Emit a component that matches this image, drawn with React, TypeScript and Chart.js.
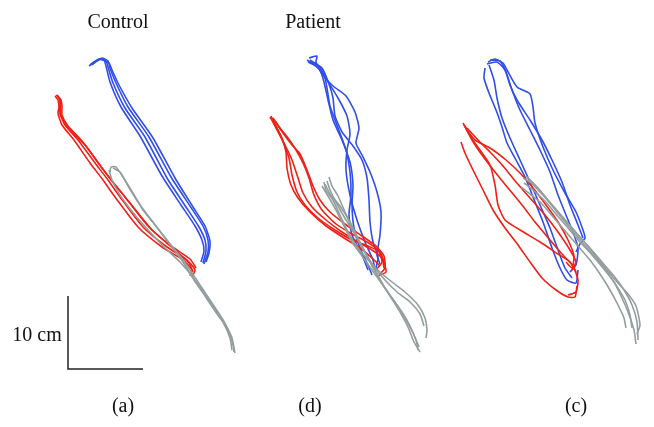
import React, { useEffect, useRef } from "react";
import { Chart, registerables } from "chart.js";

Chart.register(...registerables);

type P = [number, number];

// Panel (a) Control
const controlBlue: P[][] = [
  [[89, 66], [94, 62], [99, 59], [104, 60], [106, 66], [110, 82], [121, 107], [140, 136], [162, 176], [181, 205], [195, 226], [202, 240], [204, 251], [201, 262]],
  [[90, 65], [95, 62], [100, 59], [106, 61], [108, 67], [113, 83], [125, 108], [145, 137], [167, 178], [186, 207], [199, 227], [205, 240], [206, 251], [203, 263]],
  [[91, 64], [97, 61], [102, 58], [108, 61], [110, 68], [116, 83], [128, 107], [149, 137], [171, 177], [190, 206], [203, 226], [208, 240], [208, 252], [204, 264]],
  [[92, 65], [98, 60], [103, 60], [109, 63], [112, 70], [119, 85], [132, 108], [153, 138], [175, 178], [193, 207], [205, 226], [210, 241], [209, 253], [206, 262]],
];
const controlRed: P[][] = [
  [[56, 95], [59, 98], [60, 104], [58, 113], [62, 125], [74, 140], [90, 163], [103, 180], [115, 197], [138, 227], [162, 247], [183, 260], [192, 270], [190, 276]],
  [[57, 95], [60, 99], [61, 104], [60, 113], [65, 125], [78, 140], [95, 163], [108, 180], [120, 197], [143, 227], [167, 247], [187, 260], [195, 270], [192, 277]],
  [[58, 97], [61, 100], [62, 106], [62, 115], [68, 126], [82, 141], [99, 164], [112, 181], [125, 197], [148, 226], [171, 246], [190, 259], [196, 268]],
  [[55, 96], [58, 100], [59, 106], [61, 116], [70, 130], [86, 146], [102, 168], [116, 186], [130, 203], [152, 230], [175, 250], [189, 263], [193, 272]],
];
const controlGray: P[][] = [
  [[110, 172], [111, 167], [116, 167], [123, 177], [133, 193], [143, 210], [155, 225], [167, 240], [180, 256], [190, 270], [200, 285], [210, 300], [220, 315], [227, 327], [232, 338], [235, 353]],
  [[109, 170], [112, 180], [120, 195], [135, 215], [150, 232], [165, 248], [180, 262], [195, 280], [207, 298], [218, 313], [228, 330], [233, 345], [234, 352]],
  [[113, 168], [120, 172], [128, 186], [140, 205], [153, 222], [168, 242], [183, 262], [194, 280], [205, 296], [215, 311], [224, 324], [230, 338], [232, 350]],
];

// Panel (d) Patient
const patientBlue: P[][] = [
  [[307, 60], [313, 64], [320, 70], [324, 82], [328, 100], [333, 120], [342, 140], [350, 162], [353, 185], [352, 205], [354, 228], [360, 248], [368, 265], [372, 275]],
  [[309, 58], [317, 56], [316, 62], [322, 74], [333, 86], [346, 96], [355, 112], [359, 128], [356, 143], [362, 155], [370, 172], [377, 192], [381, 212], [380, 235], [377, 255], [380, 264]],
  [[311, 62], [319, 66], [327, 80], [338, 98], [347, 116], [350, 134], [347, 150], [346, 170], [350, 195], [357, 220], [365, 242], [373, 260], [375, 270]],
  [[310, 60], [322, 68], [329, 84], [333, 98], [335, 116], [342, 132], [353, 146], [362, 160], [367, 178], [369, 200], [370, 222], [373, 242], [378, 257], [376, 268]],
  [[308, 62], [316, 66], [324, 75], [327, 88], [330, 106], [338, 128], [346, 150], [350, 172], [351, 195], [349, 215], [352, 235], [362, 255], [368, 270]],
];
const patientRed: P[][] = [
  [[271, 116], [274, 122], [278, 130], [283, 142], [289, 158], [292, 175], [297, 192], [305, 205], [318, 218], [335, 230], [352, 240], [368, 246], [380, 252], [384, 262], [386, 272], [378, 276]],
  [[273, 118], [280, 128], [288, 138], [296, 150], [303, 163], [309, 178], [314, 195], [322, 210], [336, 224], [352, 234], [367, 242], [378, 250], [382, 262], [376, 270]],
  [[272, 120], [278, 132], [285, 145], [292, 160], [298, 178], [303, 193], [312, 207], [326, 220], [342, 232], [358, 242], [372, 250], [382, 258], [384, 268]],
  [[275, 121], [283, 133], [292, 145], [300, 154], [307, 170], [313, 186], [320, 200], [330, 212], [345, 224], [362, 236], [376, 246], [384, 256], [385, 268], [380, 274]],
  [[270, 117], [276, 127], [282, 138], [286, 152], [287, 168], [291, 185], [298, 198], [310, 212], [326, 226], [344, 238], [360, 248], [372, 258], [380, 266]],
];
const patientGray: P[][] = [
  [[324, 182], [326, 190], [333, 200], [340, 215], [348, 232], [358, 248], [370, 262], [380, 272], [392, 282], [405, 292], [418, 305], [425, 318], [427, 330], [426, 338]],
  [[329, 177], [332, 186], [338, 196], [345, 212], [352, 228], [360, 244], [368, 258], [376, 272], [385, 288], [395, 302], [405, 318], [413, 333], [419, 347]],
  [[322, 186], [328, 196], [336, 210], [344, 226], [352, 242], [362, 256], [372, 270], [382, 284], [392, 298], [402, 312], [410, 326], [416, 340], [418, 350]],
  [[327, 181], [330, 190], [337, 204], [346, 220], [356, 236], [365, 252], [372, 266], [380, 280], [390, 296], [400, 312], [408, 327], [414, 342], [420, 352]],
  [[325, 184], [330, 194], [340, 206], [350, 222], [358, 238], [366, 254], [375, 268], [385, 280], [397, 292], [410, 302], [420, 314], [424, 326]],
];

// Panel (c)
const thirdBlue: P[][] = [
  [[485, 68], [484, 78], [489, 93], [496, 110], [502, 127], [507, 143], [516, 160], [525, 177], [533, 197], [543, 222], [552, 248], [560, 268], [567, 280], [576, 283], [578, 270]],
  [[488, 62], [495, 59], [503, 63], [507, 70], [517, 87], [530, 94], [533, 107], [535, 123], [543, 147], [553, 170], [565, 193], [576, 212], [583, 230], [585, 238], [580, 244], [576, 252]],
  [[490, 60], [500, 61], [506, 72], [512, 90], [520, 110], [530, 130], [540, 150], [550, 172], [558, 195], [566, 215], [573, 232], [578, 248], [576, 265], [570, 272]],
  [[487, 64], [497, 62], [505, 70], [510, 85], [517, 100], [530, 120], [542, 140], [552, 160], [562, 182], [570, 205], [578, 225], [583, 238]],
  [[489, 65], [494, 80], [497, 98], [502, 118], [510, 138], [520, 160], [530, 182], [540, 205], [550, 228], [558, 250], [565, 268], [572, 278]],
];
const thirdRed: P[][] = [
  [[463, 123], [467, 130], [475, 140], [490, 148], [506, 160], [520, 173], [533, 188], [546, 205], [558, 222], [568, 240], [574, 256], [572, 268], [566, 262]],
  [[461, 142], [465, 153], [473, 170], [483, 190], [493, 210], [505, 228], [518, 245], [530, 262], [542, 278], [556, 290], [568, 297], [575, 297], [577, 286]],
  [[465, 126], [472, 140], [482, 155], [495, 172], [508, 188], [522, 205], [535, 222], [550, 240], [562, 254], [573, 266], [578, 280], [576, 292], [568, 295]],
  [[464, 125], [470, 136], [480, 150], [490, 165], [495, 185], [498, 205], [505, 220], [520, 230], [540, 242], [558, 254], [570, 262], [576, 272]],
  [[467, 128], [478, 140], [490, 152], [503, 166], [516, 182], [530, 198], [545, 215], [558, 232], [570, 250], [576, 262], [572, 270]],
];
const thirdGray: P[][] = [
  [[523, 178], [530, 182], [540, 192], [552, 205], [565, 220], [578, 235], [590, 248], [602, 262], [614, 276], [624, 290], [632, 305], [637, 322], [638, 340]],
  [[526, 176], [535, 185], [545, 197], [557, 212], [570, 228], [582, 242], [594, 256], [606, 270], [616, 285], [625, 300], [630, 315], [632, 328]],
  [[521, 187], [530, 194], [542, 204], [554, 218], [566, 232], [578, 246], [590, 260], [600, 274], [610, 290], [618, 305], [624, 318], [626, 328]],
  [[529, 180], [538, 188], [548, 200], [560, 214], [574, 230], [586, 244], [597, 258], [608, 271], [618, 283], [628, 294], [636, 306], [640, 325], [637, 334]],
  [[524, 183], [533, 190], [545, 201], [556, 214], [568, 228], [580, 242], [592, 255], [603, 268], [614, 282], [622, 298], [628, 312], [634, 330], [636, 344]],
];

// 10 cm scale bar
const scaleBar: P[] = [[68, 296], [68, 369], [143, 369]];

const panelTitles = ["Control", "Patient"];
const panelLetters = ["(a)", "(d)", "(c)"];
const scaleLabel = "10 cm";

const RED = "rgb(240, 32, 22)";
const BLUE = "rgb(48, 78, 232)";
const GRAY = "rgb(148, 158, 158)";

export default function App() {
  const ref = useRef<HTMLCanvasElement | null>(null);

  useEffect(() => {
    if (!ref.current) return;
    const datasets: any[] = [];
    const add = (traces: P[][], color: string) => {
      traces.forEach((t) =>
        datasets.push({
          data: t.map(([x, y]) => ({ x, y })),
          borderColor: color,
          borderWidth: 1.6,
          showLine: true,
          pointRadius: 0,
          tension: 0.2,
          fill: false,
        })
      );
    };
    add(controlGray, GRAY);
    add(patientGray, GRAY);
    add(thirdGray, GRAY);
    add(controlRed, RED);
    add(patientRed, RED);
    add(thirdRed, RED);
    add(controlBlue, BLUE);
    add(patientBlue, BLUE);
    add(thirdBlue, BLUE);
    datasets.push({
      data: scaleBar.map(([x, y]) => ({ x, y })),
      borderColor: "#222",
      borderWidth: 1.5,
      showLine: true,
      pointRadius: 0,
      tension: 0,
    });

    const chart = new Chart(ref.current, {
      type: "scatter",
      data: { datasets },
      options: {
        animation: false,
        responsive: true,
        maintainAspectRatio: false,
        layout: { padding: 0 },
        plugins: { legend: { display: false }, tooltip: { enabled: false } },
        scales: {
          x: { type: "linear", min: 0, max: 654, display: false },
          y: { type: "linear", min: 0, max: 427, reverse: true, display: false },
        },
      },
    });
    return () => chart.destroy();
  }, []);

  const txt: React.CSSProperties = {
    position: "absolute",
    fontFamily: "'Liberation Serif', 'DejaVu Serif', serif",
    fontSize: 20,
    color: "#111",
    whiteSpace: "nowrap",
    transform: "translate(-50%, -50%)",
    lineHeight: 1,
  };

  return (
    <div style={{ position: "fixed", left: 0, top: 0, width: 654, height: 427, background: "#fff" }}>
      <canvas ref={ref} />
      <div style={{ ...txt, left: 118, top: 21 }}>{panelTitles[0]}</div>
      <div style={{ ...txt, left: 313, top: 21 }}>{panelTitles[1]}</div>
      <div style={{ ...txt, left: 123, top: 405 }}>{panelLetters[0]}</div>
      <div style={{ ...txt, left: 310, top: 405 }}>{panelLetters[1]}</div>
      <div style={{ ...txt, left: 576, top: 405 }}>{panelLetters[2]}</div>
      <div style={{ ...txt, left: 37, top: 334 }}>{scaleLabel}</div>
    </div>
  );
}
